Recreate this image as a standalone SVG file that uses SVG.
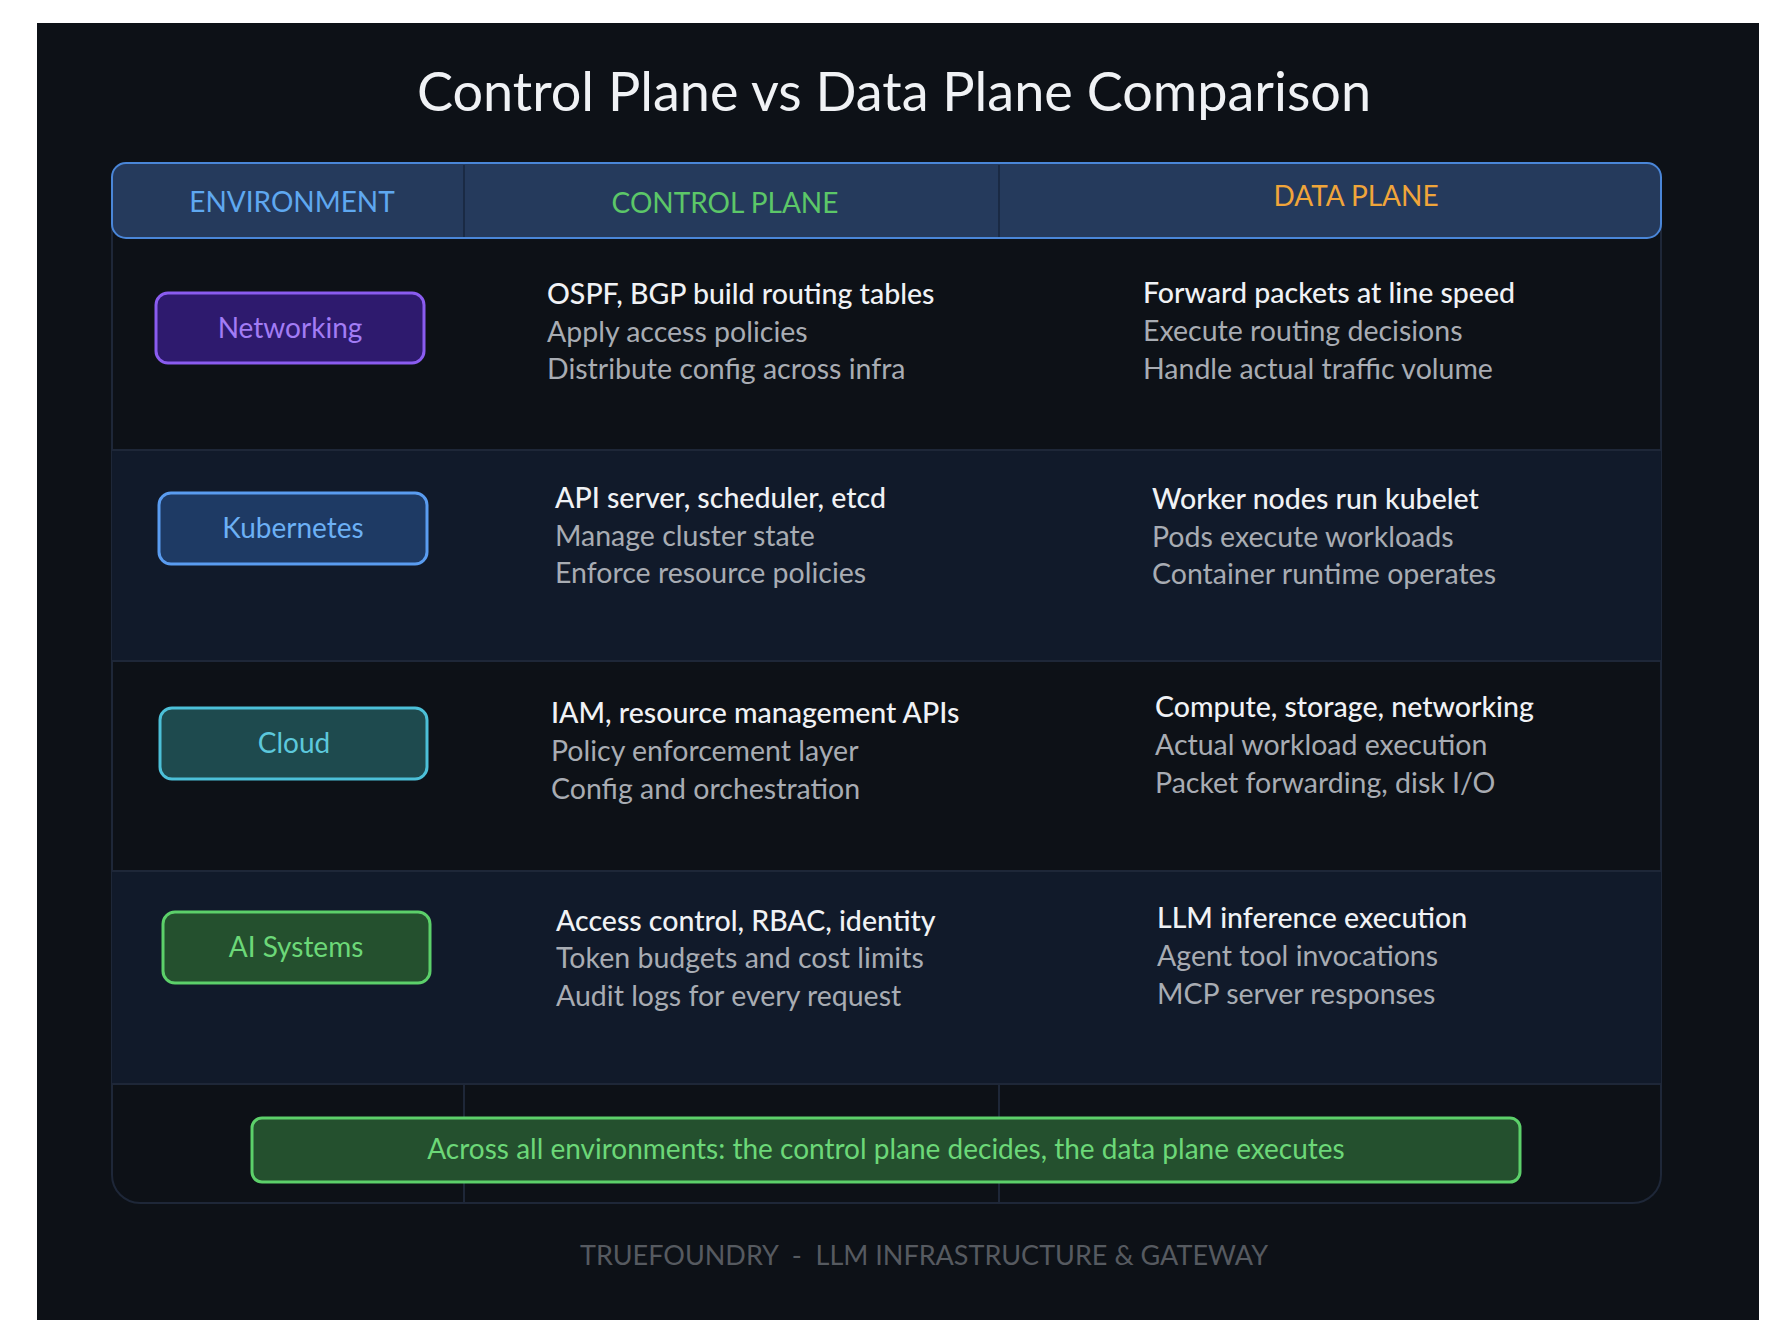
<svg xmlns="http://www.w3.org/2000/svg" width="1788" height="1342" viewBox="0 0 1788 1342">
<style>
text{font-family:Lato,"Noto Sans",sans-serif}
.h{font-size:28px;text-anchor:middle}
.m{font-size:28.5px;fill:#f0f2f5;font-weight:500}
.s{font-size:28.5px;fill:#a8acb3}
.b{font-size:28px;text-anchor:middle}
</style>
<rect width="1788" height="1342" fill="#ffffff"/>
<rect x="37" y="23" width="1722" height="1297" fill="#0d1117"/>
<text x="894" y="111" font-size="54" fill="#f0f2f5" text-anchor="middle">Control Plane vs Data Plane Comparison</text>
<g id="table">
<rect x="112" y="163" width="1549" height="1040" rx="28" fill="#0d1117" stroke="#1e2738" stroke-width="2"/>
<rect x="112" y="450" width="1549" height="211" fill="#111a2a"/>
<rect x="112" y="871" width="1549" height="213" fill="#111a2a"/>
<g stroke="#1e2738" stroke-width="2">
<line x1="112" y1="450" x2="1661" y2="450"/><line x1="112" y1="661" x2="1661" y2="661"/>
<line x1="112" y1="871" x2="1661" y2="871"/><line x1="112" y1="1084" x2="1661" y2="1084"/>
<line x1="464" y1="1084" x2="464" y2="1203"/><line x1="999" y1="1084" x2="999" y2="1203"/>
</g>
</g>
<g id="header">
<rect x="112" y="163" width="1549" height="75" rx="14" fill="#253a5c" stroke="#4a86d8" stroke-width="2"/>
<line x1="464" y1="165" x2="464" y2="237" stroke="#1a2a44" stroke-width="2"/>
<line x1="999" y1="165" x2="999" y2="237" stroke="#1a2a44" stroke-width="2"/>
<text class="h" x="292" y="212" fill="#5fa8f0">ENVIRONMENT</text>
<text class="h" x="725" y="213" fill="#5cc768">CONTROL PLANE</text>
<text class="h" x="1356" y="206" fill="#f0a53a">DATA PLANE</text>
</g>
<g id="networking">
<rect x="156" y="293" width="268" height="70" rx="12" fill="#2e1a6e" stroke="#8a5cf0" stroke-width="3"/>
<text class="b" x="290" y="338" fill="#a27cf5">Networking</text>
<text class="m" x="547" y="304">OSPF, BGP build routing tables</text>
<text class="s" x="547" y="342">Apply access policies</text>
<text class="s" x="547" y="379">Distribute config across infra</text>
<text class="m" x="1143" y="303">Forward packets at line speed</text>
<text class="s" x="1143" y="341">Execute routing decisions</text>
<text class="s" x="1143" y="379">Handle actual traffic volume</text>
</g>
<g id="kubernetes">
<rect x="159" y="493" width="268" height="71" rx="12" fill="#1e3a64" stroke="#5a9cf0" stroke-width="3"/>
<text class="b" x="293" y="538" fill="#6cb0f5">Kubernetes</text>
<text class="m" x="555" y="508">API server, scheduler, etcd</text>
<text class="s" x="555" y="546">Manage cluster state</text>
<text class="s" x="555" y="583">Enforce resource policies</text>
<text class="m" x="1152" y="509">Worker nodes run kubelet</text>
<text class="s" x="1152" y="547">Pods execute workloads</text>
<text class="s" x="1152" y="584">Container runtime operates</text>
</g>
<g id="cloud">
<rect x="160" y="708" width="267" height="71" rx="12" fill="#1e4a4e" stroke="#4cc0d8" stroke-width="3"/>
<text class="b" x="294" y="753" fill="#5cc8dc">Cloud</text>
<text class="m" x="551" y="723">IAM, resource management APIs</text>
<text class="s" x="551" y="761">Policy enforcement layer</text>
<text class="s" x="551" y="799">Config and orchestration</text>
<text class="m" x="1155" y="717">Compute, storage, networking</text>
<text class="s" x="1155" y="755">Actual workload execution</text>
<text class="s" x="1155" y="793">Packet forwarding, disk I/O</text>
</g>
<g id="ai">
<rect x="163" y="912" width="267" height="71" rx="12" fill="#24502e" stroke="#5cd06a" stroke-width="3"/>
<text class="b" x="296" y="957" fill="#6cd878">AI Systems</text>
<text class="m" x="556" y="931">Access control, RBAC, identity</text>
<text class="s" x="556" y="968">Token budgets and cost limits</text>
<text class="s" x="556" y="1006">Audit logs for every request</text>
<text class="m" x="1157" y="928">LLM inference execution</text>
<text class="s" x="1157" y="966">Agent tool invocations</text>
<text class="s" x="1157" y="1004">MCP server responses</text>
</g>
<g id="summary">
<rect x="252" y="1118" width="1268" height="64" rx="10" fill="#24502e" stroke="#5cd06a" stroke-width="3"/>
<text class="b" x="886" y="1159" fill="#6cd878">Across all environments: the control plane decides, the data plane executes</text>
</g>
<text x="924" y="1265" font-size="27" fill="#565a60" text-anchor="middle" xml:space="preserve">TRUEFOUNDRY  -  LLM INFRASTRUCTURE &amp; GATEWAY</text>
</svg>
